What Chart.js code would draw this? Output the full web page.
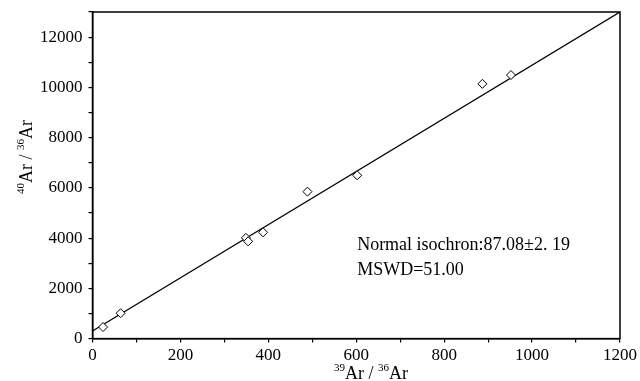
<!doctype html>
<html>

<head>
    <title>Ar-Ar isochron</title>
    <script src="https://cdn.jsdelivr.net/npm/chart.js"></script>
    <style>
        body { margin: 0; background: #fff; }
    </style>
</head>

<body>
    <canvas id="isocrona" width="640" height="381"></canvas>

    <script>
        // 39Ar/36Ar vs 40Ar/36Ar
        var pontosX = [24, 64, 349, 354, 388, 489, 602, 887, 952];
        var pontosY = [460, 1010, 4010, 3870, 4230, 5850, 6500, 10140, 10490];
        var retaX = [0, 1200];
        var retaY = [300, 13000];
        var textoIsocrona = ['Normal isochron:87.08\u00b12. 19', 'MSWD=51.00'];
        // titulos com sobrescrito: [texto, sobrescrito?]
        var tituloX = [['39', true], ['Ar / ', false], ['36', true], ['Ar', false]];
        var tituloY = [['40', true], ['Ar / ', false], ['36', true], ['Ar', false]];

        var fonteSerif = 'Liberation Serif';

        function larguraTitulo(ctx, partes) {
            var w = 0;
            partes.forEach(function (p) {
                ctx.font = (p[1] ? '11px' : '18px') + ' "' + fonteSerif + '"';
                w += ctx.measureText(p[0]).width;
            });
            return w;
        }

        function escreveTitulo(ctx, partes, cx) {
            var x = -larguraTitulo(ctx, partes) / 2 + cx;
            partes.forEach(function (p) {
                ctx.font = (p[1] ? '11px' : '18px') + ' "' + fonteSerif + '"';
                ctx.fillText(p[0], x, p[1] ? -8 : 0);
                x += ctx.measureText(p[0]).width;
            });
        }

        var moldura = {
            id: 'moldura',
            afterDraw: function (chart) {
                var ctx = chart.ctx;
                var a = chart.chartArea;
                ctx.save();
                ctx.strokeStyle = '#000';
                ctx.lineWidth = 1.5;
                ctx.strokeRect(a.left, a.top, a.right - a.left, a.bottom - a.top);

                var sx = chart.scales.x, sy = chart.scales.y;
                ctx.fillStyle = '#000';
                ctx.textBaseline = 'alphabetic';

                // texto da isocrona
                ctx.font = '18px "' + fonteSerif + '"';
                ctx.fillText(textoIsocrona[0], sx.getPixelForValue(602), sy.getPixelForValue(3780) + 6);
                ctx.fillText(textoIsocrona[1], sx.getPixelForValue(602), sy.getPixelForValue(2780) + 6);

                // titulo do eixo x
                ctx.save();
                ctx.translate(0, 379);
                escreveTitulo(ctx, tituloX, 371);
                ctx.restore();

                // titulo do eixo y
                ctx.save();
                ctx.translate(32, 157);
                ctx.rotate(-Math.PI / 2);
                escreveTitulo(ctx, tituloY, 0);
                ctx.restore();

                ctx.restore();
            }
        };

        var eixo = function (min, max, passo, rotulo, pad) {
            return {
                type: 'linear',
                min: min,
                max: max,
                border: { color: '#000', width: 1.5 },
                grid: { drawOnChartArea: false, drawTicks: true, tickLength: 4, color: '#000', lineWidth: 1.2 },
                ticks: {
                    stepSize: passo,
                    color: '#000',
                    padding: pad,
                    font: { family: fonteSerif, size: 17 },
                    callback: function (v) { return v % rotulo == 0 ? String(v) : ''; }
                }
            };
        };

        var eixoY = eixo(0, 13000, 1000, 2000, 6);
        // o rotulo do topo e vazio, nao precisa de espaco extra
        eixoY.afterFit = function (scale) { scale.paddingTop = 0; };

        new Chart(document.getElementById('isocrona').getContext('2d'), {
            type: 'scatter',
            data: {
                datasets: [{
                    label: 'amostras',
                    data: pontosX.map(function (x, i) { return { x: x, y: pontosY[i] }; }),
                    pointStyle: 'rectRot',
                    pointRadius: 4.5,
                    borderColor: '#000',
                    borderWidth: 1,
                    backgroundColor: '#fff'
                }, {
                    type: 'line',
                    label: 'isocrona',
                    data: retaX.map(function (x, i) { return { x: x, y: retaY[i] }; }),
                    borderColor: '#000',
                    borderWidth: 1.3,
                    pointRadius: 0,
                    fill: false
                }]
            },
            options: {
                responsive: false,
                animation: false,
                layout: { padding: { top: 12, right: 19, left: 34, bottom: 12 } },
                plugins: {
                    legend: { display: false },
                    tooltip: { enabled: false }
                },
                scales: {
                    x: eixo(0, 1200, 100, 200, 3),
                    y: eixoY
                }
            },
            plugins: [moldura]
        });
    </script>
</body>

</html>
